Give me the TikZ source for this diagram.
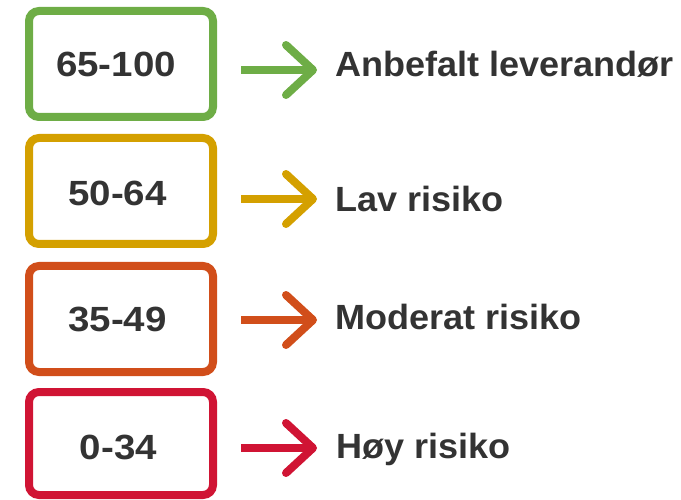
\documentclass[tikz,border=0pt]{standalone}
\usepackage{fontspec}
\setmainfont{Liberation Sans}
\newfontfamily\numfont[FakeStretch=1.1]{Liberation Sans}
\newfontfamily\labfont[FakeStretch=1.03]{Liberation Sans}
\definecolor{cgreen}{RGB}{110,173,70}
\definecolor{cgold}{RGB}{212,160,0}
\definecolor{corange}{RGB}{209,78,26}
\definecolor{cred}{RGB}{208,20,52}
\definecolor{ctext}{RGB}{51,51,51}
\begin{document}
\begin{tikzpicture}[x=1pt,y=-1pt,
  rangebox/.style={draw, line width=8pt, rounded corners=10pt, minimum width=184pt, minimum height=#1, inner sep=0pt},
  numtext/.style={font=\numfont\fontsize{35}{35}\selectfont\bfseries, text=ctext, anchor=base, inner sep=0pt},
  labtext/.style={font=\labfont\fontsize{35}{35}\selectfont\bfseries, text=ctext, anchor=base west, inner sep=0pt},
  shaft/.style={line width=8pt, line cap=butt},
  chevron/.style={line width=8pt, line cap=round, line join=round}]
\useasboundingbox (0,0) rectangle (681,500);
% boxes
\node[rangebox=106pt, draw=cgreen]  (b1) at (121,64) {};
\node[rangebox=106pt, draw=cgold]   (b2) at (121,191) {};
\node[rangebox=106pt, draw=corange] (b3) at (121,319) {};
\node[rangebox=103pt, draw=cred]    (b4) at (121,443.5) {};
% numbers
\node[numtext] (n1) at (116,77) {65-100};
\node[numtext] (n2) at (117.5,206) {50-64};
\node[numtext] (n3) at (117.5,331) {35-49};
\node[numtext] (n4) at (118.5,459) {0-34};
% labels
\node[labtext] (l1) at (335,77) {Anbefalt leverandør};
\node[labtext] (l2) at (335,212) {Lav risiko};
\node[labtext] (l3) at (335,330) {Moderat risiko};
\node[labtext] (l4) at (336,458) {Høy risiko};
% arrow coordinates
\coordinate (s1) at (241,70);  \coordinate (t1) at (313,70);
\coordinate (s2) at (241,199); \coordinate (t2) at (313,199);
\coordinate (s3) at (241,320); \coordinate (t3) at (313,320);
\coordinate (s4) at (241,448); \coordinate (t4) at (313,448);
\foreach \i/\c in {1/cgreen,2/cgold,3/corange,4/cred}{
  \draw[shaft, draw=\c] (s\i) -- ([xshift=-3pt]t\i);
  \draw[chevron, draw=\c] ([shift={(-27,-25)}]t\i) -- (t\i) -- ([shift={(-27,25)}]t\i);
}
\end{tikzpicture}
\end{document}
